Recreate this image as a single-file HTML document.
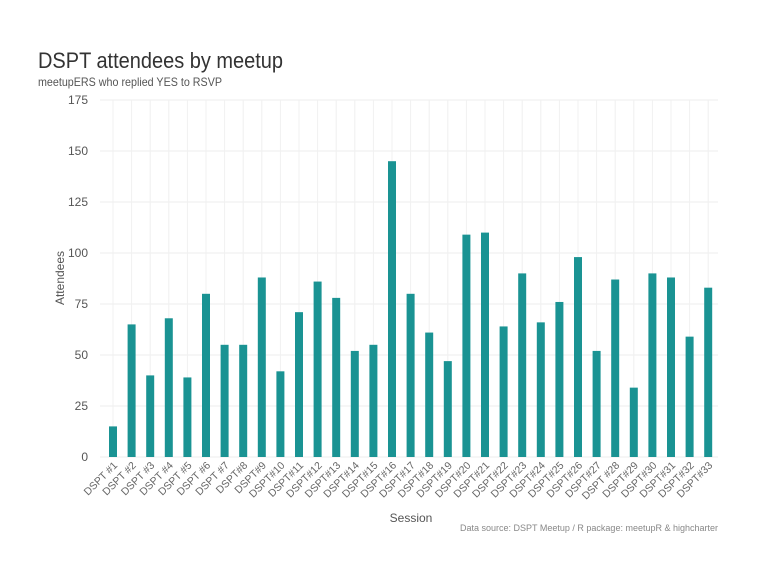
<!DOCTYPE html>
<html><head><meta charset="utf-8"><style>
body{margin:0;background:#fff;font-family:"Liberation Sans",sans-serif}
</style></head><body>
<svg id="chart" width="768" height="576">
<text x="38" y="68" font-size="22" fill="#333" textLength="245" lengthAdjust="spacingAndGlyphs">DSPT attendees by meetup</text>
<text x="38" y="86" font-size="12" fill="#555" textLength="184" lengthAdjust="spacingAndGlyphs">meetupERS who replied YES to RSVP</text>
<text x="64" y="278" font-size="12" fill="#555" transform="rotate(-90 64 278)" text-anchor="middle">Attendees</text>
<text x="411" y="522" font-size="12" fill="#555" text-anchor="middle">Session</text>
<text x="718" y="531" font-size="9" fill="#888" text-anchor="end">Data source: DSPT Meetup / R package: meetupR &amp; highcharter</text>
<g id="grid"></g><g id="bars"></g><g id="ylabels"></g><g id="xlabels"></g>
</svg>
<script>
const categories=["DSPT #1","DSPT #2","DSPT #3","DSPT #4","DSPT #5","DSPT #6","DSPT #7","DSPT#8","DSPT#9","DSPT#10","DSPT#11","DSPT#12","DSPT#13","DSPT#14","DSPT#15","DSPT#16","DSPT#17","DSPT#18","DSPT#19","DSPT#20","DSPT#21","DSPT#22","DSPT#23","DSPT#24","DSPT#25","DSPT#26","DSPT#27","DSPT #28","DSPT#29","DSPT#30","DSPT#31","DSPT#32","DSPT#33"];
const attendees=[15,65,40,68,39,80,55,55,88,42,71,86,78,52,55,145,80,61,47,109,110,64,90,66,76,98,52,87,34,90,88,59,83];
const yTicks=[0,25,50,75,100,125,150,175];
const NS="http://www.w3.org/2000/svg";
const x0=103.7,x1=717.5,y0=457,y1=100,ymax=175;
const bw=(x1-x0)/categories.length;
const xs=i=>x0+bw*(i+0.5);
const ys=v=>y0-(v/ymax)*(y0-y1);
function mk(t,a,p){const e=document.createElementNS(NS,t);for(const k in a)e.setAttribute(k,a[k]);p.appendChild(e);return e;}
const grid=document.getElementById('grid'),bars=document.getElementById('bars'),yl=document.getElementById('ylabels'),xl=document.getElementById('xlabels');
yTicks.forEach(t=>{
 const l=mk('line',{x1:100,x2:718,y1:ys(t),y2:ys(t),stroke:'#eee','stroke-width':1},grid);
 
 
 const tx=mk('text',{x:88,y:ys(t)+4,'font-size':12,fill:'#555','text-anchor':'end'},yl);
 tx.textContent=t;
 
 
});
categories.forEach((c,i)=>{
 const l=mk('line',{x1:xs(i),x2:xs(i),y1:y1,y2:y0,stroke:'#f0f0f0','stroke-width':1},grid);
 
 
 const v=attendees[i];
 const r=mk('rect',{x:xs(i)-4,y:ys(v),width:8,height:y0-ys(v),fill:'#1a9393'},bars);
 
 
 const t=mk('text',{x:xs(i)+5,y:y0+9,'font-size':10.5,fill:'#666','text-anchor':'end',transform:`rotate(-45 ${xs(i)+5} ${y0+9})`},xl);
 t.textContent=c;
 
 
});
</script>
</body></html>
